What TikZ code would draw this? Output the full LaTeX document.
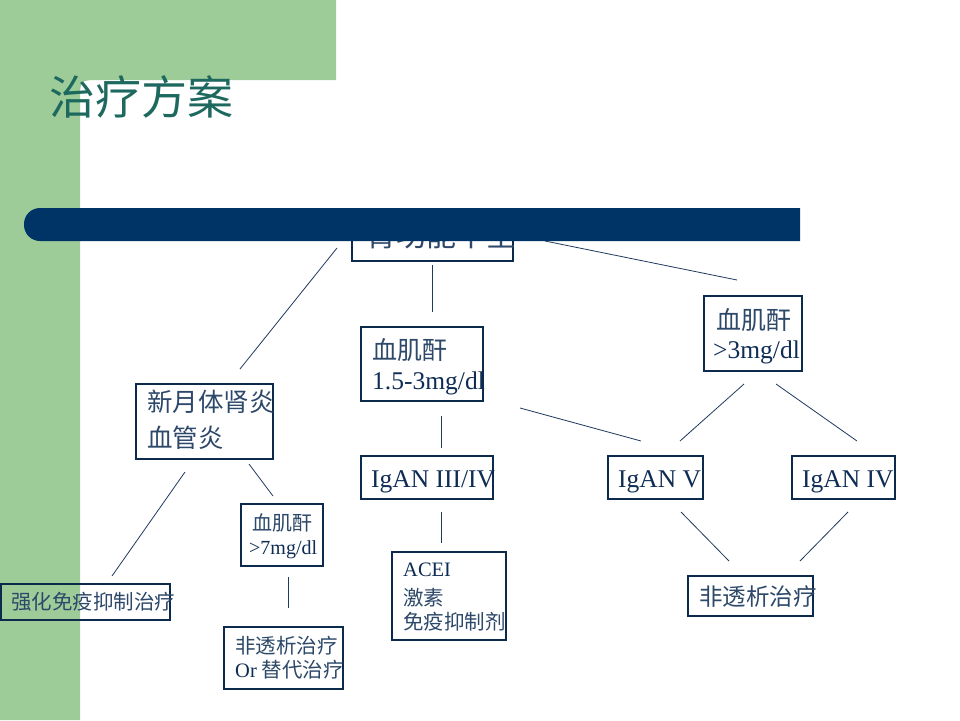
\documentclass[tikz,border=0pt]{standalone}
\usepackage{fontspec}
\setmainfont{Liberation Serif}
\newfontfamily\cjk{Noto Sans CJK SC}
\definecolor{greenbg}{RGB}{157,204,153}
\definecolor{barc}{RGB}{0,51,102}
\definecolor{titlec}{RGB}{30,105,95}
\definecolor{boxc}{RGB}{12,42,76}
\definecolor{linec}{RGB}{31,58,95}
\definecolor{txtc}{RGB}{14,44,84}
\definecolor{cjkc}{RGB}{45,72,105}
\tikzset{
  box/.style={draw=boxc, line width=1.1pt, inner sep=0pt, rectangle},
  txt/.style={inner sep=0pt, anchor=base west, text=txtc},
  conn/.style={draw=linec, line width=0.8pt},
}
\newcommand\fs[1]{\fontsize{#1}{#1}\selectfont}
\newcommand\zh[1]{{\cjk\color{cjkc}#1}}
\begin{document}
\begin{tikzpicture}[x=1pt,y=-1pt]
\useasboundingbox (0,0) rectangle (960,720);
\fill[white] (0,0) rectangle (960,720);
% green L-shaped background
\fill[greenbg] (0,0) -- (336,0) -- (336,80) -- (100,80) .. controls (80,80) .. (80,100) -- (80,720) -- (0,720) -- cycle;
% title
\node[inner sep=0pt, anchor=base west, text=titlec, font=\cjk\fs{46}] (title) at (49,114) {治疗方案};

% boxes
\node[box, minimum width=161pt, minimum height=46pt] (root) at (432.5,238) {};
\node[box, minimum width=137pt, minimum height=75pt] (xyt) at (204.5,421.5) {};
\node[box, minimum width=122pt, minimum height=74pt] (mid) at (422,364) {};
\node[box, minimum width=98pt, minimum height=75pt] (hi) at (753,333.5) {};
\node[box, minimum width=132pt, minimum height=43pt] (g34) at (427,477.5) {};
\node[box, minimum width=95pt, minimum height=43pt] (g5) at (655.5,477.5) {};
\node[box, minimum width=103pt, minimum height=43pt] (g4) at (843.5,477.5) {};
\node[box, minimum width=82pt, minimum height=62pt] (c7) at (282,535) {};
\node[box, minimum width=169pt, minimum height=36pt] (qh) at (85.5,602) {};
\node[box, minimum width=119pt, minimum height=62pt] (alt) at (283.5,658) {};
\node[box, minimum width=114pt, minimum height=88pt] (acei) at (449,596) {};
\node[box, minimum width=125pt, minimum height=40pt] (ntx) at (750.5,596) {};

% texts
\node[txt, font=\fs{30}] (troot) at (366,246) {\zh{肾功能不全}};
\node[txt, font=\fs{25.5}] (txyt1) at (147,411) {\zh{新月体肾炎}};
\node[txt, font=\fs{25.5}] (txyt2) at (147,447) {\zh{血管炎}};
\node[txt, font=\fs{25}] (tmid1) at (372,359) {\zh{血肌酐}};
\node[txt, font=\fs{25.5}] (tmid2) at (372,389) {1.5-3mg/dl};
\node[txt, font=\fs{25}] (thi1) at (716,329) {\zh{血肌酐}};
\node[txt, font=\fs{25.5}] (thi2) at (713,358) {>3mg/dl};
\node[txt, font=\fs{25.5}] (tg34) at (371,487) {IgAN III/IV};
\node[txt, font=\fs{25.5}] (tg5) at (618,487) {IgAN V};
\node[txt, font=\fs{25.5}] (tg4) at (802,487) {IgAN IV};
\node[txt, font=\fs{20}] (tc71) at (252,530) {\zh{血肌酐}};
\node[txt, font=\fs{20}] (tc72) at (249,554) {>7mg/dl};
\node[txt, font=\fs{20.5}] (tqh) at (11,609) {\zh{强化免疫抑制治疗}};
\node[txt, font=\fs{20.5}] (talt1) at (235,653) {\zh{非透析治疗}};
\node[txt, font=\fs{20.5}] (talt2) at (235,677) {Or \zh{替代治疗}};
\node[txt, font=\fs{20.5}] (tacei1) at (403,576) {ACEI};
\node[txt, font=\fs{20.5}] (tacei2) at (403,605) {\zh{激素}};
\node[txt, font=\fs{20.5}] (tacei3) at (403,629) {\zh{免疫抑制剂}};
\node[txt, font=\fs{23.5}] (tntx) at (699,605) {\zh{非透析治疗}};

% connector end points
\coordinate (a1) at (337,248);  \coordinate (b1) at (240,369);
\coordinate (a2) at (432,265);  \coordinate (b2) at (432,312);
\coordinate (a3) at (545,241);  \coordinate (b3) at (737,280);
\coordinate (a4) at (441,416);  \coordinate (b4) at (441,448);
\coordinate (a5) at (520,408);  \coordinate (b5) at (641,441);
\coordinate (a6) at (744,384);  \coordinate (b6) at (680,441);
\coordinate (a7) at (776,384);  \coordinate (b7) at (857,441);
\coordinate (a8) at (441,512);  \coordinate (b8) at (441,543);
\coordinate (a9) at (681,512);  \coordinate (b9) at (729,561);
\coordinate (a10) at (848,512); \coordinate (b10) at (800,561);
\coordinate (a11) at (185,472); \coordinate (b11) at (112,576);
\coordinate (a12) at (249,464); \coordinate (b12) at (273,496);
\coordinate (a13) at (288,577); \coordinate (b13) at (288,608);
\foreach \i in {1,...,13} {\draw[conn] (a\i) -- (b\i);}

% dark blue bar drawn on top
\fill[barc] (800,208) -- (40,208) [rounded corners=16pt] -- (24,208) -- (24,241) [sharp corners] -- (40,241) -- (800,241) -- cycle;
\end{tikzpicture}
\end{document}
